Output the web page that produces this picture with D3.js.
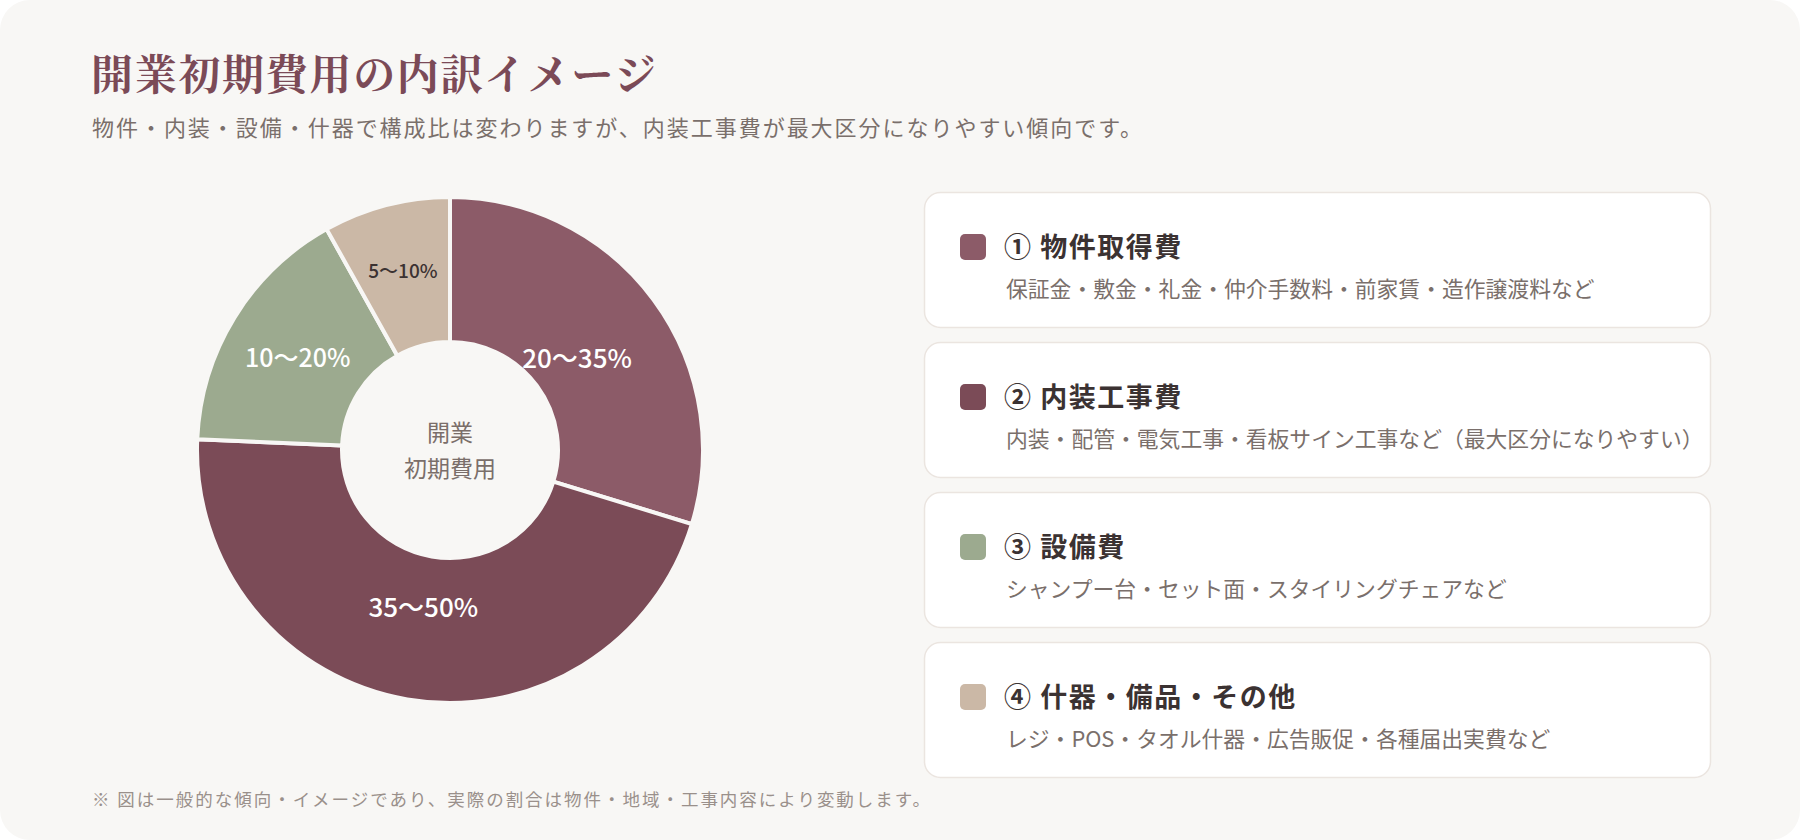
<!DOCTYPE html>
<html lang="ja">
<head>
<meta charset="utf-8">
<script src="https://cdn.jsdelivr.net/npm/d3@7"></script>
<style>
  body { margin: 0; background: #ffffff; }
  svg { display: block; font-family: "Noto Sans CJK JP", "Noto Sans", sans-serif; }
</style>
</head>
<body>
<script>
// cost categories and typical share ranges (%)
const categories = ['物件取得費', '内装工事費', '設備費', '什器・備品・その他'];
const markers = ['①', '②', '③', '④'];
const rangeLow = [20, 35, 10, 5];
const rangeHigh = [35, 50, 20, 10];
const details = [
    '保証金・敷金・礼金・仲介手数料・前家賃・造作譲渡料など',
    '内装・配管・電気工事・看板サイン工事など（最大区分になりやすい）',
    'シャンプー台・セット面・スタイリングチェアなど',
    'レジ・POS・タオル什器・広告販促・各種届出実費など'
];
const colors = ['#8c5b68', '#7b4b57', '#9caa8f', '#cbb8a6'];

const dataset = categories.map((c, i) => ({
    name: c,
    marker: markers[i],
    detail: details[i],
    low: rangeLow[i],
    high: rangeHigh[i],
    value: (rangeLow[i] + rangeHigh[i]) / 2,
    color: colors[i]
}));
const total = d3.sum(dataset, d => d.value);

const svgWidth = 1800;
const svgHeight = 840;
const bg = '#f8f7f5';

const svg = d3.select('body')
    .append('svg')
    .attr('width', svgWidth)
    .attr('height', svgHeight);

svg.append('rect')
    .attr('width', svgWidth)
    .attr('height', svgHeight)
    .attr('rx', 30)
    .attr('fill', bg);

// heading
svg.append('text')
    .attr('x', 91)
    .attr('y', 90)
    .attr('textLength', 565)
    .attr('lengthAdjust', 'spacing')
    .style('font-family', '"Noto Serif CJK JP", "Noto Sans CJK JP", serif')
    .style('font-size', '42px')
    .style('font-weight', 700)
    .attr('fill', '#7b4a57')
    .text('開業初期費用の内訳イメージ');

svg.append('text')
    .attr('x', 92)
    .attr('y', 136)
    .attr('textLength', 1050)
    .attr('lengthAdjust', 'spacing')
    .style('font-size', '22px')
    .attr('fill', '#7a6f6b')
    .text('物件・内装・設備・什器で構成比は変わりますが、内装工事費が最大区分になりやすい傾向です。');

// donut
const cx = 450, cy = 450;
const outerR = 253, innerR = 108;

const pie = d3.pie().sort(null).value(d => d.value);
const arc = d3.arc().innerRadius(innerR).outerRadius(outerR);
const arcs = pie(dataset);

const g = svg.append('g').attr('transform', `translate(${cx}, ${cy})`);

g.selectAll('.slice')
    .data(arcs)
    .enter()
    .append('path')
    .attr('class', 'slice')
    .attr('d', arc)
    .attr('fill', d => d.data.color)
    .attr('stroke', bg)
    .attr('stroke-width', 4)
    .attr('stroke-linejoin', 'round');

// narrow slices get their label pushed further out
const labelPos = d => {
    const share = d.data.value / total;
    const r = share > 0.25 ? 158 : 195 - share * 100;
    return d3.arc().innerRadius(r).outerRadius(r).centroid(d);
};

g.selectAll('.lbl')
    .data(arcs)
    .enter()
    .append('text')
    .attr('class', 'lbl')
    .attr('transform', d => `translate(${labelPos(d)})`)
    .attr('text-anchor', 'middle')
    .attr('dominant-baseline', 'central')
    .style('font-size', d => d.data.value / total < 0.1 ? '19px' : (d.data.value / total > 0.25 ? '26px' : '25px'))
    .style('font-weight', 500)
    .attr('fill', d => d.data.value / total < 0.1 ? '#3b3232' : '#ffffff')
    .text(d => `${d.data.low}〜${d.data.high}%`);

g.append('text')
    .attr('text-anchor', 'middle')
    .attr('y', -9)
    .style('font-size', '23px')
    .attr('fill', '#7a6e6a')
    .text('開業');

g.append('text')
    .attr('text-anchor', 'middle')
    .attr('y', 27)
    .style('font-size', '23px')
    .attr('fill', '#7a6e6a')
    .text('初期費用');

// legend cards
const cardX = 924, cardY = 192, cardW = 786, cardH = 135, cardGap = 15;

const card = svg.selectAll('.card')
    .data(dataset)
    .enter()
    .append('g')
    .attr('class', 'card')
    .attr('transform', (d, i) => `translate(${cardX}, ${cardY + i * (cardH + cardGap)})`);

card.append('rect')
    .attr('x', 0.5)
    .attr('y', 0.5)
    .attr('width', cardW)
    .attr('height', cardH)
    .attr('rx', 16)
    .attr('fill', '#ffffff')
    .attr('stroke', '#ebe5e0')
    .attr('stroke-width', 1.5);

card.append('rect')
    .attr('x', 36)
    .attr('y', 42)
    .attr('width', 26)
    .attr('height', 26)
    .attr('rx', 5)
    .attr('fill', d => d.color);

card.append('text')
    .attr('x', 80)
    .attr('y', 65)
    .style('font-size', '27px')
    .style('font-weight', 700)
    .style('letter-spacing', '1.5px')
    .attr('fill', '#3b3232')
    .text(d => `${d.marker} ${d.name}`);

card.append('text')
    .attr('x', 82)
    .attr('y', 105)
    .style('font-size', '21.8px')
    .attr('fill', '#7a6f6b')
    .text(d => d.detail);

svg.append('text')
    .attr('x', 92)
    .attr('y', 806)
    .attr('textLength', 838)
    .attr('lengthAdjust', 'spacing')
    .style('font-size', '17.5px')
    .attr('fill', '#9a908b')
    .text('※ 図は一般的な傾向・イメージであり、実際の割合は物件・地域・工事内容により変動します。');
</script>
</body>
</html>
